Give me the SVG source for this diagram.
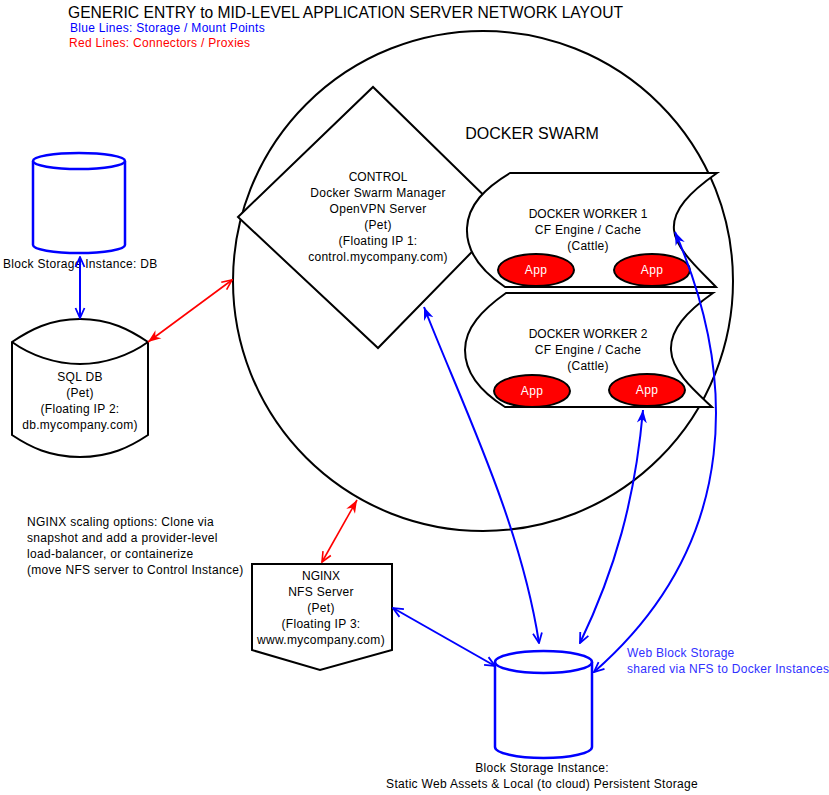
<svg xmlns="http://www.w3.org/2000/svg" width="829" height="795" viewBox="0 0 829 795">
<style>
text{font-family:"Liberation Sans",Arial,sans-serif;font-size:12px;fill:#000;letter-spacing:0.3px}
.c{text-anchor:middle}
.caps{letter-spacing:0}
.shape{fill:#fff;stroke:#000;stroke-width:2}
.stor{fill:#fff;stroke:#0000ff;stroke-width:2.5}
.app{fill:#ff0000;stroke:#000;stroke-width:2}
.appt{fill:#fff;text-anchor:middle}
.blue{fill:none;stroke:#0000ff;stroke-width:2}
.red{fill:none;stroke:#ff0000;stroke-width:1.6}
</style>
<defs>
<marker id="bo" viewBox="0 0 12 12" refX="11" refY="6" markerWidth="12" markerHeight="12" markerUnits="userSpaceOnUse" orient="auto-start-reverse"><path d="M1,1.5 L11,6 L1,10.5" fill="none" stroke="#0000ff" stroke-width="1.8"/></marker>
<marker id="bf" viewBox="0 0 14 12" refX="13" refY="6" markerWidth="14" markerHeight="12" markerUnits="userSpaceOnUse" orient="auto-start-reverse"><path d="M0,1 L13,6 L0,11 L4,6 Z" fill="#0000ff"/></marker>
<marker id="ro" viewBox="0 0 12 12" refX="11" refY="6" markerWidth="12" markerHeight="12" markerUnits="userSpaceOnUse" orient="auto-start-reverse"><path d="M1,1.5 L11,6 L1,10.5" fill="none" stroke="#ff0000" stroke-width="1.6"/></marker>
<marker id="rf" viewBox="0 0 14 12" refX="13" refY="6" markerWidth="14" markerHeight="12" markerUnits="userSpaceOnUse" orient="auto-start-reverse"><path d="M0,1 L13,6 L0,11 L4,6 Z" fill="#ff0000"/></marker>
</defs>
<rect width="829" height="795" fill="#fff"/>

<g id="legend">
<text x="68" y="18" class="caps" style="font-size:16px" textLength="555" lengthAdjust="spacingAndGlyphs">GENERIC ENTRY to MID-LEVEL APPLICATION SERVER NETWORK LAYOUT</text>
<text x="70" y="32" style="fill:#0000ff">Blue Lines: Storage / Mount Points</text>
<text x="69" y="47" style="fill:#ff0000">Red Lines: Connectors / Proxies</text>
</g>

<g id="swarm">
<circle cx="483" cy="281" r="250" fill="none" stroke="#000" stroke-width="2"/>
<text x="532" y="139" class="c caps" style="font-size:16px">DOCKER SWARM</text>
</g>

<g id="control">
<path class="shape" d="M238,217 L373,87 L506,217 L378,348 Z"/>
<text class="c caps" x="378" y="181">CONTROL</text>
<text class="c" x="378" y="197">Docker Swarm Manager</text>
<text class="c" x="378" y="213">OpenVPN Server</text>
<text class="c" x="378" y="229">(Pet)</text>
<text class="c" x="378" y="245">(Floating IP 1:</text>
<text class="c" x="378" y="261">control.mycompany.com)</text>
</g>

<g id="worker1">
<path class="shape" d="M510,173 L717,173 C690,192 672,210 674,230 C676,250 700,270 716,287 L505,287 C480,270 466,250 467,228 C468,205 485,188 510,173 Z"/>
<text class="c caps" x="588" y="218">DOCKER WORKER 1</text>
<text class="c" x="588" y="234">CF Engine / Cache</text>
<text class="c" x="588" y="250">(Cattle)</text>
<ellipse class="app" cx="536" cy="270" rx="38" ry="16"/>
<text class="appt" x="536" y="274">App</text>
<ellipse class="app" cx="652" cy="270" rx="38" ry="16"/>
<text class="appt" x="652" y="274">App</text>
</g>

<g id="worker2">
<path class="shape" d="M506,293 L713,293 C686,312 670,330 671,350 C672,372 696,392 712,407 L505,407 C478,390 465,372 465,350 C465,328 482,310 506,293 Z"/>
<text class="c caps" x="588" y="338">DOCKER WORKER 2</text>
<text class="c" x="588" y="354">CF Engine / Cache</text>
<text class="c" x="588" y="370">(Cattle)</text>
<ellipse class="app" cx="532" cy="391" rx="38" ry="16"/>
<text class="appt" x="532" y="395">App</text>
<ellipse class="app" cx="647" cy="390" rx="38" ry="16"/>
<text class="appt" x="647" y="394">App</text>
</g>

<g id="dbstorage">
<path class="stor" d="M33,161 L33,245 A46,8 0 0 0 125,245 L125,161"/>
<ellipse class="stor" cx="79" cy="161" rx="46" ry="8"/>
<text x="3" y="268">Block Storage Instance: DB</text>
</g>

<g id="sqldb">
<path class="shape" d="M12,342 C30,330 50,319 80,319 C110,319 130,330 148,342 L148,435 C130,447 110,457 80,457 C50,457 30,447 12,435 Z"/>
<path d="M12,342 C30,355 55,364 80,364 C105,364 130,355 148,342" fill="none" stroke="#000" stroke-width="2"/>
<text class="c" x="80" y="381">SQL DB</text>
<text class="c" x="80" y="397">(Pet)</text>
<text class="c" x="80" y="413">(Floating IP 2:</text>
<text class="c" x="80" y="429">db.mycompany.com)</text>
</g>

<g id="nginx">
<path class="shape" d="M252,564 L392,564 L392,650 L320,670 L252,650 Z"/>
<text class="c caps" x="321" y="580">NGINX</text>
<text class="c" x="321" y="596">NFS Server</text>
<text class="c" x="321" y="612">(Pet)</text>
<text class="c" x="321" y="628">(Floating IP 3:</text>
<text class="c" x="321" y="644">www.mycompany.com)</text>
</g>

<g id="nginxnote">
<text x="27" y="526">NGINX scaling options: Clone via</text>
<text x="27" y="542">snapshot and add a provider-level</text>
<text x="27" y="558">load-balancer, or containerize</text>
<text x="27" y="574">(move NFS server to Control Instance)</text>
</g>

<g id="webstorage">
<path class="stor" d="M495,662 L495,747 A48.5,11 0 0 0 592,747 L592,662"/>
<ellipse class="stor" cx="543.5" cy="662" rx="48.5" ry="11"/>
<text class="c" x="542" y="772">Block Storage Instance:</text>
<text class="c" x="542" y="788">Static Web Assets &amp; Local (to cloud) Persistent Storage</text>
</g>

<g id="webnote">
<text x="627" y="657" style="fill:#3030ff">Web Block Storage</text>
<text x="627" y="673" style="fill:#3030ff">shared via NFS to Docker Instances</text>
</g>

<g id="connectors">
<path class="blue" d="M80,257 L80,318" marker-start="url(#bo)" marker-end="url(#bo)"/>
<path class="red" d="M148,342 L232,280" marker-start="url(#rf)" marker-end="url(#ro)"/>
<path class="red" d="M322,562 L357,500" marker-start="url(#ro)" marker-end="url(#rf)"/>
<path class="blue" d="M393,608 L495,666" marker-start="url(#bo)" marker-end="url(#bo)"/>
<path class="blue" d="M424,307 C460,400 520,520 539,643" marker-start="url(#bf)" marker-end="url(#bo)"/>
<path class="blue" d="M643,410 C635,500 615,570 580,643" marker-start="url(#bf)" marker-end="url(#bo)"/>
<path class="blue" d="M675,232 C735,370 745,540 594,672" marker-start="url(#bf)" marker-end="url(#bo)"/>
</g>
</svg>
